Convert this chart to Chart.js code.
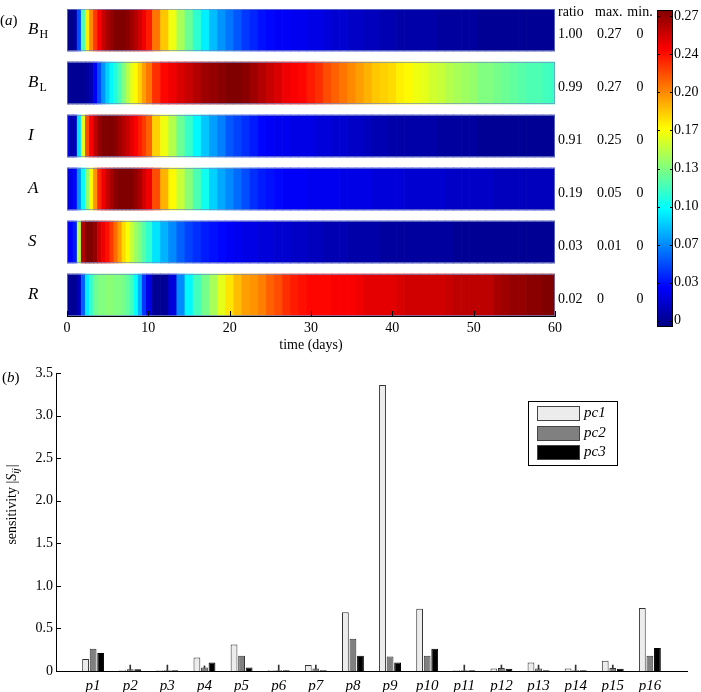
<!DOCTYPE html>
<html>
<head>
<meta charset="utf-8">
<script src="https://cdn.jsdelivr.net/npm/chart.js@4.4.0/dist/chart.umd.min.js"></script>
<style>
  body { margin: 0; background: #fff; }
  #wrap { position: relative; width: 701px; height: 692px; }
  canvas { position: absolute; }
</style>
</head>
<body>
<div id="wrap">
  <canvas id="heat" style="left:0;top:0" width="701" height="360"></canvas>
  <canvas id="cbar" style="left:640px;top:0" width="61" height="345"></canvas>
  <canvas id="bars" style="left:0;top:350px" width="701" height="342"></canvas>
</div>
<script>
// ---- panel (a): heat strips ----
const rowNames = ['B', 'B', 'I', 'A', 'S', 'R'];
const rowSubs = ['H', 'L', '', '', '', ''];
const ratios = ['1.00', '0.99', '0.91', '0.19', '0.03', '0.02'];
const maxima = ['0.27', '0.27', '0.25', '0.05', '0.01', '0'];
const minima = ['0', '0', '0', '0', '0', '0'];

// sample times (days)
const times = [0, 0.5, 1, 1.5, 2, 2.5, 3, 3.5, 4, 4.5, 5, 5.5, 6, 6.5, 7, 7.5, 8, 8.5, 9, 9.5, 10,
  11, 12, 13, 14, 15, 16, 17, 18, 19, 20, 21, 22, 23, 24, 25, 26, 27, 28, 29, 30,
  31, 32, 33, 34, 35, 36, 37, 38, 39, 40, 41, 42, 43, 44, 45, 46, 47, 48, 49, 50,
  51, 52, 53, 54, 55, 56, 57, 58, 59, 60];

// values relative to each row's maximum
const bH = [0.01, 0.01, 0.03, 0.2, 0.45, 0.64, 0.74, 0.82, 0.88, 0.93, 0.96, 0.98, 1.0, 1.0, 1.0, 0.99, 0.97, 0.95, 0.92, 0.89, 0.85,
  0.76, 0.68, 0.61, 0.54, 0.48, 0.42, 0.36, 0.31, 0.27, 0.24, 0.21, 0.18, 0.16, 0.14, 0.13, 0.12, 0.12, 0.11, 0.11, 0.1,
  0.1, 0.09, 0.08, 0.08, 0.07, 0.07, 0.06, 0.06, 0.05, 0.05, 0.04, 0.04, 0.04, 0.04, 0.04, 0.03, 0.03, 0.03, 0.03, 0.03,
  0.02, 0.02, 0.02, 0.02, 0.02, 0.02, 0.02, 0.02, 0.02, 0.02];
const bL = [0.02, 0.02, 0.02, 0.02, 0.02, 0.03, 0.05, 0.12, 0.2, 0.27, 0.33, 0.37, 0.41, 0.45, 0.5, 0.55, 0.6, 0.63, 0.67, 0.72, 0.76,
  0.83, 0.87, 0.89, 0.91, 0.93, 0.95, 0.97, 0.98, 0.99, 1.0, 1.0, 0.99, 0.97, 0.95, 0.93, 0.91, 0.89, 0.88, 0.87, 0.85,
  0.83, 0.8, 0.78, 0.76, 0.74, 0.72, 0.7, 0.68, 0.67, 0.66, 0.64, 0.63, 0.61, 0.6, 0.58, 0.57, 0.55, 0.54, 0.53, 0.52,
  0.5, 0.5, 0.49, 0.48, 0.47, 0.46, 0.45, 0.45, 0.44, 0.43];
const inf = [0.13, 0.04, 0.06, 0.35, 0.6, 0.8, 0.88, 0.94, 0.98, 1.0, 1.0, 1.0, 0.99, 0.97, 0.95, 0.93, 0.9, 0.88, 0.85, 0.82, 0.78,
  0.67, 0.61, 0.55, 0.48, 0.43, 0.37, 0.32, 0.28, 0.25, 0.21, 0.19, 0.17, 0.15, 0.13, 0.12, 0.11, 0.11, 0.1, 0.1, 0.1,
  0.09, 0.09, 0.08, 0.08, 0.07, 0.07, 0.06, 0.05, 0.05, 0.04, 0.04, 0.04, 0.04, 0.04, 0.04, 0.03, 0.03, 0.03, 0.03, 0.03,
  0.02, 0.02, 0.02, 0.02, 0.02, 0.02, 0.02, 0.02, 0.02, 0.02];
const asy = [0.08, 0.1, 0.13, 0.27, 0.38, 0.52, 0.63, 0.73, 0.84, 0.89, 0.93, 0.96, 0.99, 1.0, 1.0, 1.0, 1.0, 0.98, 0.96, 0.92, 0.89,
  0.8, 0.7, 0.63, 0.57, 0.51, 0.45, 0.39, 0.33, 0.29, 0.26, 0.23, 0.2, 0.17, 0.15, 0.14, 0.13, 0.12, 0.12, 0.12, 0.11,
  0.11, 0.11, 0.11, 0.1, 0.1, 0.1, 0.1, 0.09, 0.09, 0.09, 0.09, 0.08, 0.08, 0.08, 0.08, 0.08, 0.07, 0.07, 0.07, 0.07,
  0.07, 0.07, 0.06, 0.06, 0.06, 0.06, 0.06, 0.06, 0.06, 0.06];
const sus = [0.12, 0.12, 0.15, 0.55, 0.95, 1.0, 1.0, 0.98, 0.92, 0.89, 0.86, 0.82, 0.77, 0.72, 0.66, 0.62, 0.57, 0.53, 0.5, 0.46, 0.42,
  0.35, 0.3, 0.26, 0.22, 0.19, 0.17, 0.15, 0.14, 0.13, 0.12, 0.11, 0.1, 0.1, 0.09, 0.09, 0.08, 0.08, 0.07, 0.07, 0.06,
  0.06, 0.05, 0.05, 0.05, 0.04, 0.04, 0.04, 0.04, 0.03, 0.03, 0.03, 0.03, 0.03, 0.03, 0.03, 0.03, 0.03, 0.02, 0.02, 0.02,
  0.02, 0.02, 0.02, 0.02, 0.02, 0.02, 0.02, 0.02, 0.02, 0.02];
const rec = [0.02, 0.02, 0.02, 0.06, 0.22, 0.36, 0.43, 0.48, 0.5, 0.5, 0.51, 0.51, 0.5, 0.5, 0.49, 0.47, 0.44, 0.38, 0.3, 0.18, 0.1,
  0.02, 0.02, 0.09, 0.26, 0.37, 0.44, 0.49, 0.54, 0.6, 0.65, 0.69, 0.72, 0.73, 0.75, 0.78, 0.8, 0.83, 0.85, 0.86, 0.87,
  0.87, 0.87, 0.88, 0.88, 0.88, 0.89, 0.9, 0.9, 0.9, 0.9, 0.91, 0.92, 0.92, 0.92, 0.92, 0.92, 0.93, 0.94, 0.94, 0.94,
  0.94, 0.94, 0.96, 0.97, 0.98, 0.98, 0.99, 0.99, 1.0, 1.0];
const rowValues = [bH, bL, inf, asy, sus, rec];

// colour bar
const cbarTicks = [0, 0.03375, 0.0675, 0.10125, 0.135, 0.16875, 0.2025, 0.23625, 0.27];
const cbarLabels = ['0', '0.03', '0.07', '0.10', '0.13', '0.17', '0.20', '0.24', '0.27'];

// ---- panel (b): sensitivities ----
const params = ['p1', 'p2', 'p3', 'p4', 'p5', 'p6', 'p7', 'p8', 'p9', 'p10', 'p11', 'p12', 'p13', 'p14', 'p15', 'p16'];
const pc1 = [0.14, 0.01, 0.01, 0.16, 0.31, 0.01, 0.07, 0.69, 3.36, 0.73, 0.01, 0.03, 0.10, 0.03, 0.12, 0.74];
const pc2 = [0.26, 0.02, 0.01, 0.04, 0.18, 0.01, 0.03, 0.38, 0.17, 0.18, 0.01, 0.035, 0.03, 0.01, 0.035, 0.18];
const pc3 = [0.21, 0.02, 0.01, 0.10, 0.04, 0.01, 0.01, 0.18, 0.10, 0.26, 0.01, 0.025, 0.01, 0.01, 0.025, 0.27];
const stemTops = [null, 0.07, 0.07, 0.06, null, 0.07, 0.07, null, null, null, 0.07, 0.07, 0.07, 0.07, 0.07, null];

const SERIF = "'Liberation Serif', 'DejaVu Serif', serif";

function jet(v) {
  const c = x => Math.round(255 * Math.max(0, Math.min(1, x)));
  return `rgb(${c(1.5 - Math.abs(4 * v - 3))},${c(1.5 - Math.abs(4 * v - 2))},${c(1.5 - Math.abs(4 * v - 1))})`;
}

function txt(ctx, s, x, y, font, align) {
  ctx.font = font;
  ctx.textAlign = align || 'left';
  ctx.textBaseline = 'middle';
  ctx.fillStyle = '#000';
  ctx.fillText(s, x, y);
  return ctx.measureText(s).width;
}

// segment edges halfway between samples
const segLo = times.map((t, j) => j === 0 ? t : (times[j - 1] + t) / 2);
const segHi = times.map((t, j) => j === times.length - 1 ? t : (t + times[j + 1]) / 2);

const heatLabels = {
  id: 'heatLabels',
  afterDraw(chart) {
    const ctx = chart.ctx;
    const sx = chart.scales.x, sy = chart.scales.y;
    const area = chart.chartArea;
    ctx.save();
    // faint strip outlines
    ctx.strokeStyle = 'rgba(120,140,200,0.7)';
    ctx.lineWidth = 1;
    rowNames.forEach((n, k) => {
      const yc = sy.getPixelForValue(k);
      ctx.strokeRect(area.left + 0.5, Math.round(yc - 21) + 0.5, area.right - area.left - 1, 41);
    });
    // inward ticks
    ctx.strokeStyle = '#000';
    sx.ticks.forEach(t => {
      const x = Math.round(sx.getPixelForValue(t.value)) + 0.5;
      ctx.beginPath();
      ctx.moveTo(x, area.bottom);
      ctx.lineTo(x, area.bottom - 5);
      ctx.stroke();
    });
    // panel tag
    let w = txt(ctx, '(', 0, 21, `15px ${SERIF}`);
    w += txt(ctx, 'a', w, 21, `italic 15px ${SERIF}`);
    txt(ctx, ')', w, 21, `15px ${SERIF}`);
    // headers
    txt(ctx, 'ratio', 558, 12, `14px ${SERIF}`);
    txt(ctx, 'max.', 595, 12, `14px ${SERIF}`);
    txt(ctx, 'min.', 640, 12, `14px ${SERIF}`, 'center');
    rowNames.forEach((n, k) => {
      const yc = sy.getPixelForValue(k);
      const bw = txt(ctx, n, 28, yc, `italic 17px ${SERIF}`);
      if (rowSubs[k]) txt(ctx, rowSubs[k], 28 + bw + 1, yc + 5, `12px ${SERIF}`);
      txt(ctx, ratios[k], 558, yc + 4, `14px ${SERIF}`);
      txt(ctx, maxima[k], 597, yc + 4, `14px ${SERIF}`);
      txt(ctx, minima[k], 640, yc + 4, `14px ${SERIF}`, 'center');
    });
    ctx.restore();
  }
};

new Chart(document.getElementById('heat'), {
  type: 'bar',
  data: {
    datasets: rowValues.map((vals, k) => ({
      data: times.map((t, j) => ({ y: k, x: [segLo[j], segHi[j]] })),
      backgroundColor: vals.map(jet),
      borderWidth: 0,
      grouped: false,
      barThickness: 42
    }))
  },
  options: {
    indexAxis: 'y',
    responsive: false,
    animation: false,
    layout: { padding: { left: 67, right: 146, top: 9, bottom: 0 } },
    plugins: { legend: { display: false }, tooltip: { enabled: false } },
    scales: {
      y: { type: 'linear', display: false, reverse: true, offset: false, min: -0.396, max: 5.396 },
      x: {
        type: 'linear', min: 0, max: 60, position: 'bottom',
        ticks: { stepSize: 10, padding: 4, color: '#000', font: { family: SERIF, size: 14 } },
        grid: { display: false, drawTicks: false },
        border: { display: true, color: '#000', width: 1 },
        title: { display: true, text: 'time (days)', color: '#000', font: { family: SERIF, size: 14 }, padding: { top: 0, bottom: 6 } },
        afterFit: s => { s.height = 44; }
      }
    }
  },
  plugins: [heatLabels]
});

// ---- colour bar ----
const cbarFrame = {
  id: 'cbarFrame',
  afterDraw(chart) {
    const ctx = chart.ctx, a = chart.chartArea, sy = chart.scales.y;
    ctx.save();
    ctx.strokeStyle = '#000';
    ctx.lineWidth = 1;
    ctx.strokeRect(a.left + 0.5, a.top + 0.5, a.right - a.left - 1, a.bottom - a.top - 1);
    cbarTicks.forEach(v => {
      const y = Math.round(sy.getPixelForValue(v)) + 0.5;
      ctx.beginPath();
      ctx.moveTo(a.left, y); ctx.lineTo(a.left + 3, y);
      ctx.moveTo(a.right, y); ctx.lineTo(a.right - 3, y);
      ctx.stroke();
    });
    ctx.restore();
  }
};

new Chart(document.getElementById('cbar'), {
  type: 'bar',
  data: {
    labels: ['c'],
    datasets: [{
      data: [[-0.0055, 0.2755]],
      borderWidth: 0,
      categoryPercentage: 1,
      barPercentage: 1,
      backgroundColor: ctx => {
        const ca = ctx.chart.chartArea;
        if (!ca) return '#000';
        const g = ctx.chart.ctx.createLinearGradient(0, ca.bottom, 0, ca.top);
        [0, 0.125, 0.375, 0.625, 0.875, 1].forEach(s => g.addColorStop(s, jet(s)));
        return g;
      }
    }]
  },
  options: {
    responsive: false,
    animation: false,
    layout: { padding: { left: 17, top: 10, bottom: 18, right: 0 } },
    plugins: { legend: { display: false }, tooltip: { enabled: false } },
    scales: {
      x: { display: false },
      y: {
        position: 'right', min: -0.0055, max: 0.2755,
        afterBuildTicks: s => { s.ticks = cbarTicks.map(v => ({ value: v })); },
        ticks: { callback: (v, i) => cbarLabels[i], padding: 1, color: '#000', font: { family: SERIF, size: 14 } },
        grid: { display: false, drawTicks: false },
        border: { display: false },
        afterFit: s => { s.width = 28; }
      }
    }
  },
  plugins: [cbarFrame]
});

// ---- panel (b) ----
const barDecor = {
  id: 'barDecor',
  afterDraw(chart) {
    const ctx = chart.ctx, a = chart.chartArea, sy = chart.scales.y;
    ctx.save();
    // inward y ticks
    ctx.strokeStyle = '#000';
    ctx.lineWidth = 1;
    sy.ticks.forEach(t => {
      const y = Math.round(sy.getPixelForValue(t.value)) + 0.5;
      ctx.beginPath();
      ctx.moveTo(a.left, y); ctx.lineTo(a.left + 5, y);
      ctx.stroke();
    });
    // panel tag
    let w = txt(ctx, '(', 2, 28, `15px ${SERIF}`);
    w += txt(ctx, 'b', 2 + w, 28, `italic 15px ${SERIF}`);
    txt(ctx, ')', 2 + w, 28, `15px ${SERIF}`);
    // y title
    ctx.save();
    ctx.translate(12, 155);
    ctx.rotate(-Math.PI / 2);
    ctx.font = `14px ${SERIF}`;
    const w1 = ctx.measureText('sensitivity |').width;
    ctx.font = `italic 14px ${SERIF}`;
    const w2 = ctx.measureText('S').width;
    ctx.font = `italic 10px ${SERIF}`;
    const w3 = ctx.measureText('ij').width;
    ctx.font = `14px ${SERIF}`;
    const w4 = ctx.measureText('|').width;
    let x = -(w1 + w2 + w3 + w4) / 2;
    txt(ctx, 'sensitivity |', x, 0, `14px ${SERIF}`); x += w1;
    txt(ctx, 'S', x, 0, `italic 14px ${SERIF}`); x += w2;
    txt(ctx, 'ij', x, 4, `italic 10px ${SERIF}`); x += w3;
    txt(ctx, '|', x + 1, 0, `14px ${SERIF}`);
    ctx.restore();
    // legend box
    const lx = 528, ly = 51, lw = 89, lh = 64;
    ctx.fillStyle = '#fff';
    ctx.fillRect(lx, ly, lw, lh);
    ctx.strokeStyle = '#000';
    ctx.strokeRect(lx + 0.5, ly + 0.5, lw, lh);
    const rowsY = [63, 83, 102];
    chart.data.datasets.slice(0, 3).forEach((ds, i) => {
      ctx.fillStyle = ds.backgroundColor;
      ctx.fillRect(537, rowsY[i] - 7, 42, 14);
      ctx.strokeStyle = '#444';
      ctx.strokeRect(537.5, rowsY[i] - 6.5, 42, 14);
      txt(ctx, ds.label, 584, rowsY[i], `italic 15px ${SERIF}`);
    });
    ctx.restore();
  }
};

const pad = arr => [null, ...arr, null];

new Chart(document.getElementById('bars'), {
  type: 'bar',
  data: {
    labels: ['', ...params, ''],
    datasets: [
      { label: 'pc1', data: pad(pc1), backgroundColor: '#ececec', borderColor: '#333', borderWidth: 1,
        categoryPercentage: 0.61, barPercentage: 0.9 },
      { label: 'pc2', data: pad(pc2), backgroundColor: '#808080', borderColor: '#333', borderWidth: 1,
        categoryPercentage: 0.61, barPercentage: 0.9 },
      { label: 'pc3', data: pad(pc3), backgroundColor: '#000000', borderColor: '#000', borderWidth: 1,
        categoryPercentage: 0.61, barPercentage: 0.9 },
      { label: 'stem', data: pad(stemTops.map(v => v === null ? null : [0, v])), backgroundColor: '#333',
        borderWidth: 0, grouped: false, barThickness: 1 }
    ]
  },
  options: {
    responsive: false,
    animation: false,
    layout: { padding: { left: 0, right: 14, top: 23, bottom: 0 } },
    plugins: { legend: { display: false }, tooltip: { enabled: false } },
    scales: {
      x: {
        type: 'category', offset: false,
        grid: { display: false, drawTicks: false },
        border: { color: '#000', width: 1 },
        ticks: { padding: 6, autoSkip: false, maxRotation: 0, color: '#000', font: { family: SERIF, size: 15, style: 'italic' } },
        afterFit: s => { s.height = 21; }
      },
      y: {
        min: 0, max: 3.5,
        ticks: { stepSize: 0.5, padding: 3, color: '#000', font: { family: SERIF, size: 14 },
          callback: v => v === 0 ? '0' : v.toFixed(1) },
        grid: { display: false, drawTicks: false },
        border: { color: '#000', width: 1 },
        afterFit: s => { s.width = 56; }
      }
    }
  },
  plugins: [barDecor]
});
</script>
</body>
</html>
